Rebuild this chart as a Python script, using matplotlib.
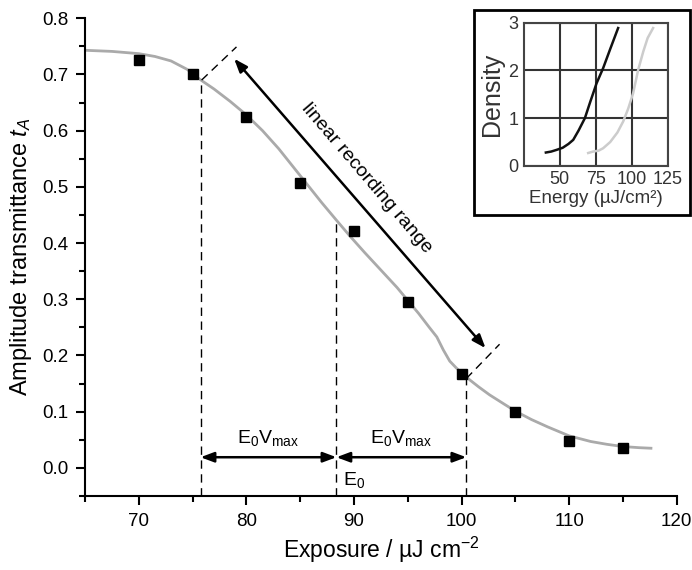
import matplotlib
matplotlib.use("Agg")
import matplotlib.pyplot as plt
from matplotlib.patches import Rectangle
from matplotlib.ticker import MultipleLocator

plt.rcParams['font.family'] = ['Liberation Sans', 'DejaVu Sans']
plt.rcParams['mathtext.fontset'] = 'custom'
plt.rcParams['mathtext.rm'] = 'Liberation Sans'
plt.rcParams['mathtext.it'] = 'Liberation Sans:italic'

# measured data points
exp_x = [70, 75, 80, 85, 90, 95, 100, 105, 110, 115]
t_A = [0.725, 0.700, 0.625, 0.507, 0.422, 0.295, 0.167, 0.100, 0.048, 0.035]

# fitted gray curve
fit_x = [65, 67.5, 70, 71.5, 73, 74.5, 75.7, 77, 78.5, 80, 81.5, 83, 85, 87, 88.4, 89.6, 91, 92.5,
         94, 95, 96, 97, 97.7, 98.3, 98.9, 99.5, 100, 100.8, 101.6, 102.6, 104, 105, 106.5, 108,
         110, 112, 113.5, 115, 116.5, 117.6]
fit_y = [0.743, 0.741, 0.737, 0.732, 0.724, 0.709, 0.691, 0.674, 0.652, 0.628, 0.600, 0.568, 0.520,
         0.472, 0.440, 0.413, 0.383, 0.352, 0.321, 0.298, 0.275, 0.250, 0.233, 0.210, 0.190, 0.178,
         0.169, 0.156, 0.144, 0.130, 0.113, 0.101, 0.086, 0.073, 0.057, 0.047, 0.042, 0.038, 0.036,
         0.035]

# annotation positions
E_low, E0, E_high = 75.74, 88.37, 100.44
curve_at = [0.690, 0.440, 0.163]

# inset curves
ins_black_x = [40.3, 44, 47.7, 52, 56, 59.3, 63, 67.4, 71, 75.5, 80.1, 85, 90.5]
ins_black_y = [0.28, 0.30, 0.335, 0.38, 0.46, 0.545, 0.74, 1.0, 1.33, 1.73, 2.05, 2.45, 2.89]
ins_gray_x = [69.7, 73.1, 77, 80.1, 85, 90, 94.0, 97.5, 100.9, 104.4, 108, 111, 114.8]
ins_gray_y = [0.27, 0.30, 0.32, 0.37, 0.50, 0.70, 0.93, 1.20, 1.52, 2.01, 2.40, 2.68, 2.89]

fig = plt.figure(figsize=(6.92, 5.70), dpi=100)
ax = fig.add_axes([0.1228, 0.1298, 0.8552, 0.8382])

ax.plot(fit_x, fit_y, color='#aaaaaa', lw=2, zorder=2)
ax.plot(exp_x, t_A, 'ks', markersize=7, zorder=3)

ax.set_xlim(65, 120)
ax.set_ylim(-0.05, 0.8)
for s in ['top', 'right']:
    ax.spines[s].set_visible(False)
for s in ['left', 'bottom']:
    ax.spines[s].set_linewidth(1.5)
ax.xaxis.set_major_locator(MultipleLocator(10))
ax.xaxis.set_minor_locator(MultipleLocator(5))
ax.yaxis.set_minor_locator(MultipleLocator(0.05))
ax.set_yticks([0.0, 0.1, 0.2, 0.3, 0.4, 0.5, 0.6, 0.7, 0.8])
ax.set_yticklabels(['0.0', '0.1', '0.2', '0.3', '0.4', '0.5', '0.6', '0.7', '0.8'])
ax.tick_params(which='major', direction='out', length=6.5, width=1.5, labelsize=13.5, pad=5.5)
ax.tick_params(which='minor', direction='out', length=4, width=1.5)
ax.set_xlabel('Exposure / µJ cm$^{-2}$', fontsize=16.5, labelpad=4)
ax.set_ylabel('Amplitude transmittance $t_A$', fontsize=17, labelpad=6)

# dashed vertical lines
for xv, yv in zip([E_low, E0, E_high], curve_at):
    ax.plot([xv, xv], [-0.05, yv], color='black', lw=1, ls=(0, (6, 4)), zorder=1)

# horizontal arrows
arrow_kw = dict(arrowstyle='<|-|>,head_length=0.8,head_width=0.3', color='black', lw=1.8,
                shrinkA=0, shrinkB=0)
ax.annotate('', xy=(E_low, 0.019), xytext=(E0, 0.019), arrowprops=arrow_kw)
ax.annotate('', xy=(E0, 0.019), xytext=(E_high, 0.019), arrowprops=arrow_kw)
ax.text((E_low + E0) / 2, 0.054, 'E$_0$V$_\\mathrm{max}$', ha='center', va='center', fontsize=14)
ax.text((E0 + E_high) / 2, 0.054, 'E$_0$V$_\\mathrm{max}$', ha='center', va='center', fontsize=14)
ax.text(89.0, -0.022, 'E$_0$', ha='left', va='center', fontsize=14)

# diagonal arrow with perpendicular dashed lines
ax.plot([75.84, 79.08], [0.690, 0.749], color='black', lw=1, ls=(0, (6, 4)))
ax.plot([100.44, 103.53], [0.159, 0.220], color='black', lw=1, ls=(0, (6, 4)))
ax.annotate('', xy=(78.86, 0.728), xytext=(102.23, 0.213),
            arrowprops=dict(arrowstyle='<|-|>,head_length=0.8,head_width=0.3', color='black',
                            lw=1.8, shrinkA=0, shrinkB=0))
ax.text(91.2, 0.515, 'linear recording range', rotation=-49.5, rotation_mode='anchor',
        ha='center', va='center', fontsize=14)

# inset
fig.patches.append(Rectangle((0.685, 0.623), 0.312, 0.359, transform=fig.transFigure,
                             fill=True, facecolor='white', edgecolor='black', lw=2, zorder=5))
ins = fig.add_axes([0.757, 0.709, 0.208, 0.251])
ins.set_zorder(6)
ins.plot(ins_black_x, ins_black_y, color='#111111', lw=1.8)
ins.plot(ins_gray_x, ins_gray_y, color='#cccccc', lw=1.8)
ins.set_xlim(25, 125)
ins.set_ylim(0, 3)
ins.set_xticks([50, 75, 100, 125])
ins.set_yticks([0, 1, 2, 3])
ins.grid(True, color='#333333', lw=1.5)
for s in ins.spines.values():
    s.set_color('#444444')
    s.set_linewidth(1.5)
ins.tick_params(length=0, labelsize=13, colors='#333333', pad=4)
ins.set_xlabel('Energy (µJ/cm²)', fontsize=13.5, color='#333333', labelpad=1)
ins.set_ylabel('Density', fontsize=18, color='#333333', labelpad=3)

fig.savefig('out.png', dpi=100)
